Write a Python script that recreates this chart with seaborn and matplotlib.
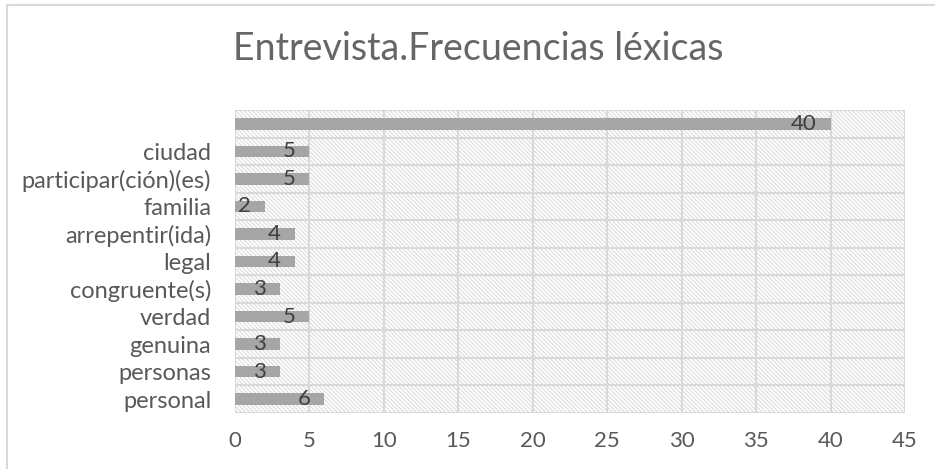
import numpy as np
import pandas as pd
import matplotlib
matplotlib.use("Agg")
import matplotlib.pyplot as plt
import matplotlib.transforms as mtransforms
import seaborn as sns
from matplotlib.patches import Rectangle

palabras = ["", "ciudad", "participar(ción)(es)", "familia", "arrepentir(ida)",
            "legal", "congruente(s)", "verdad", "genuina", "personas", "personal"]
frecuencias = [40, 5, 5, 2, 4, 4, 3, 5, 3, 3, 6]
xticks = [0, 5, 10, 15, 20, 25, 30, 35, 40, 45]

df = pd.DataFrame({"palabra": palabras, "frecuencia": frecuencias})

sns.set_style("white")
plt.rcParams['font.family'] = ['Lato', 'DejaVu Sans']
plt.rcParams['hatch.color'] = '#dcdcdc'
plt.rcParams['hatch.linewidth'] = 0.8

fig = plt.figure(figsize=(9.35, 4.69), dpi=100)
ax = fig.add_axes([0.2513, 0.1194, 0.7166, 0.6461])

# hatched background of the plot area
bg = Rectangle((0, 0), 1, 1, transform=ax.transAxes, facecolor='white',
               hatch='\\' * 8, edgecolor='#dcdcdc', linewidth=0, zorder=0)
ax.add_patch(bg)

sns.barplot(data=df, y="palabra", x="frecuencia", orient="h", color="#a6a6a6",
            width=0.42, ax=ax, zorder=3, saturation=1, linewidth=0)

# value labels sit just inside the end of each bar
shift = mtransforms.offset_copy(ax.transData, fig=fig, x=-14, y=0, units='dots')
for i, v in enumerate(frecuencias):
    ax.text(v, i, str(v), ha='right', va='center', fontsize=16,
            color='#404040', zorder=4, transform=shift)

ax.set_xlim(0, 45)
ax.set_ylim(len(palabras) - 0.5, -0.5)
ax.set_xticks(xticks)
ax.set_yticks(range(len(palabras)))
ax.set_yticklabels(palabras)
ax.set_yticks(np.arange(-0.5, len(palabras), 1), minor=True)
ax.grid(True, axis='x', which='major', color='#d9d9d9', linewidth=1.5, zorder=1)
ax.grid(True, axis='y', which='minor', color='#d9d9d9', linewidth=1.5, zorder=1)
ax.grid(False, axis='y', which='major')
ax.tick_params(axis='both', which='both', length=0, labelcolor='#595959')
ax.tick_params(axis='x', pad=13, labelsize=16)
ax.tick_params(axis='y', pad=17, labelsize=17)
ax.set_xlabel("")
ax.set_ylabel("")
for s in ax.spines.values():
    s.set_visible(False)
ax.set_axisbelow(True)

fig.text(0.512, 0.895, "Entrevista.Frecuencias léxicas", ha='center', va='center',
         fontsize=27, color='#666666')

# chart frame
fig.patches.append(Rectangle((0.007, -0.01), 1.0, 1.0, transform=fig.transFigure,
                             fill=False, edgecolor='#d9d9d9', linewidth=1.5))

fig.savefig("out.png", dpi=100)
